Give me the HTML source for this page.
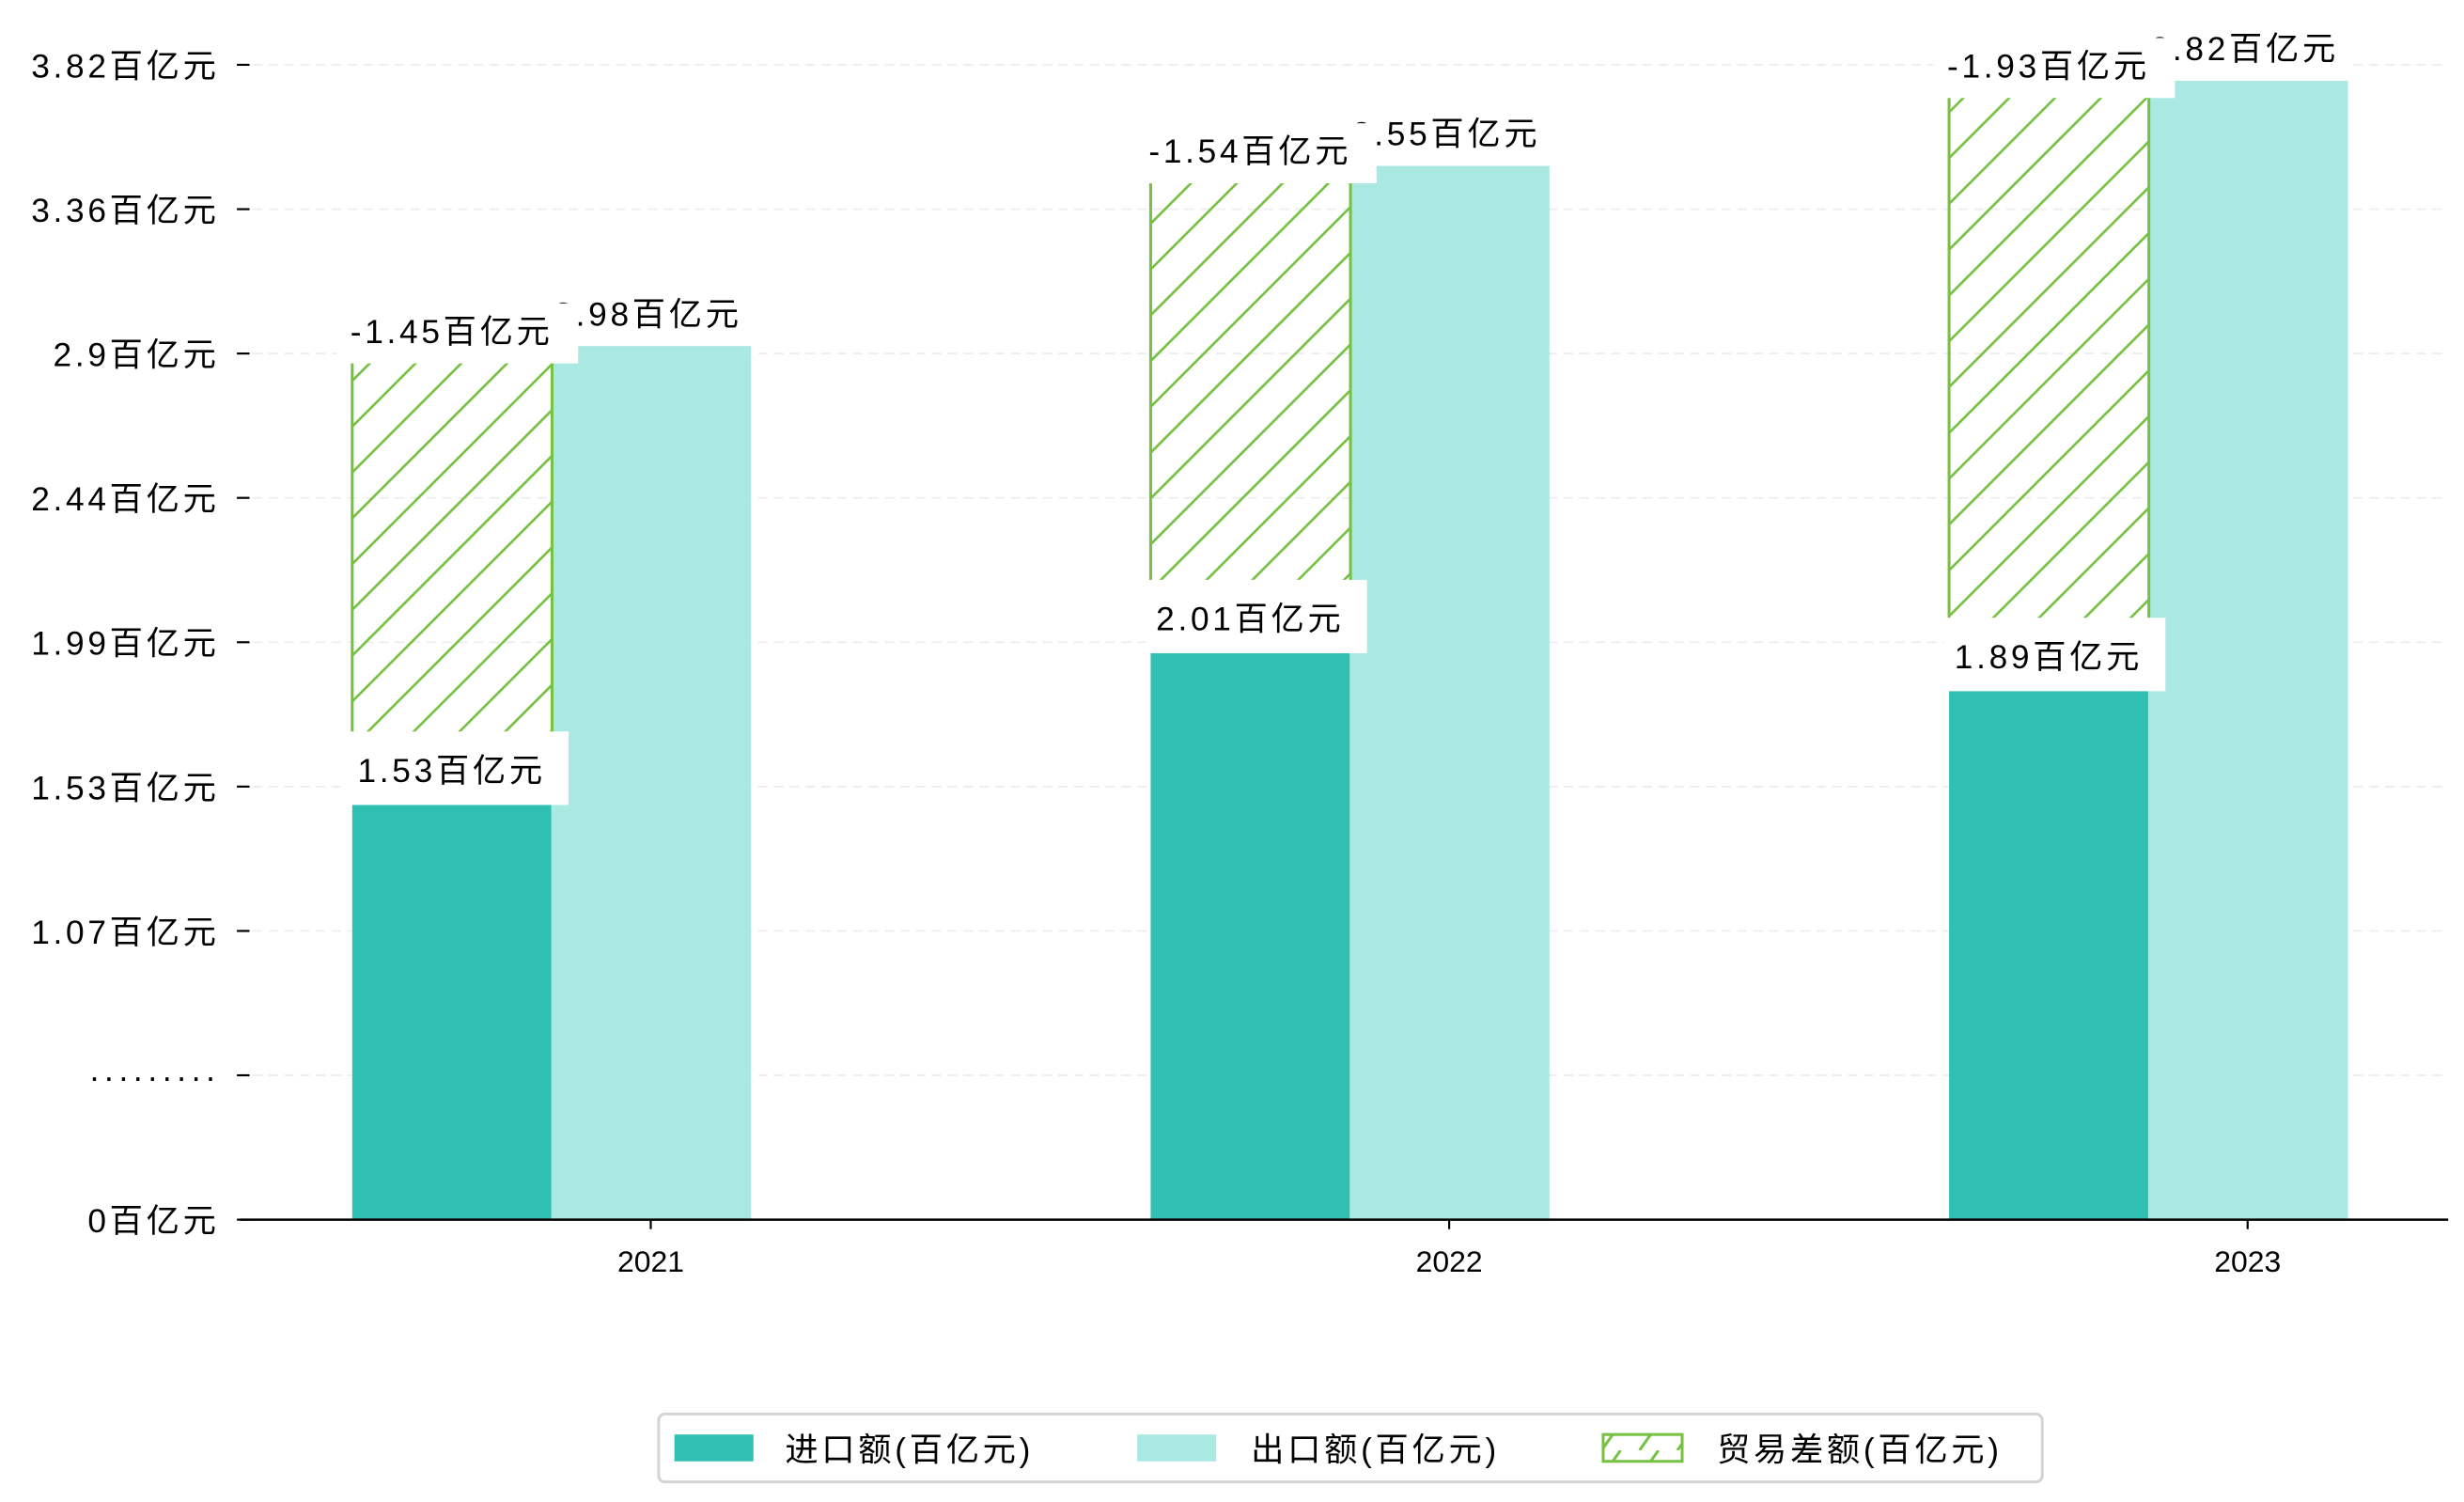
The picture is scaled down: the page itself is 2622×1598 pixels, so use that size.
<!DOCTYPE html>
<html><head><meta charset="utf-8">
<style>
html,body{margin:0;padding:0;background:#fff;}
svg{display:block;}
text{font-family:"Liberation Sans","WenQuanYi Zen Hei","Noto Sans CJK SC",sans-serif;fill:#000;}
.lbl{letter-spacing:2.2px;}
</style></head>
<body>
<svg id="chart" width="2622" height="1598" viewBox="0 0 1560 950.7" xmlns="http://www.w3.org/2000/svg">
<defs>
<pattern id="hatch" patternUnits="userSpaceOnUse" width="29" height="29">
<path d="M0,29 L29,0 M-6,6 L6,-6 M23,35 L35,23" stroke="#76c043" stroke-width="1.6" fill="none"/>
</pattern>
<pattern id="hatch2" patternUnits="userSpaceOnUse" width="24" height="17">
<path d="M6,17 L18,0" stroke="#76c043" stroke-width="1.8" fill="none"/>
</pattern>
</defs>
<g id="grid"></g>
<g id="bars"></g>
<g id="labels"></g>
<g id="axes"></g>
<g id="legend">
<rect x="417" y="895" width="876" height="43" rx="4" fill="#fff" stroke="#d4d4d4" stroke-width="1.8"/>
<rect x="427" y="908" width="50" height="17" fill="#30bfb3"/>
<text class="lbl" x="497" y="925" font-size="21">进口额(百亿元)</text>
<rect x="720" y="908" width="50" height="17" fill="#aae8e2"/>
<text class="lbl" x="792" y="925" font-size="21">出口额(百亿元)</text>
<rect x="1015" y="908" width="50" height="17" fill="url(#hatch2)" stroke="#76c043" stroke-width="1.8"/>
<text class="lbl" x="1087" y="925" font-size="21">贸易差额(百亿元)</text>
</g>
</svg>
<script>
const categories = ["2021", "2022", "2023"];
const importValues = [1.53, 2.01, 1.89];
const exportValues = [2.98, 3.55, 3.82];
const balanceValues = [-1.45, -1.54, -1.93];
const tickLabels = ["0百亿元", "·········", "1.07百亿元", "1.53百亿元", "1.99百亿元", "2.44百亿元", "2.9百亿元", "3.36百亿元", "3.82百亿元"];

const NS = "http://www.w3.org/2000/svg";
const baseY = 772, plotL = 152, plotR = 1550;
function yScale(v){ return Math.min(baseY, 815 - 200 * v); }
function xCenter(i){ return 412 + i * 505.5; }
const barW = 126.5;
function mk(tag, attrs, parent){
  const e = document.createElementNS(NS, tag);
  for (const k in attrs) e.setAttribute(k, attrs[k]);
  parent.appendChild(e); return e;
}
const grid = document.getElementById('grid');
const axes = document.getElementById('axes');
const bars = document.getElementById('bars');
const labels = document.getElementById('labels');

tickLabels.forEach((t, i) => {
  const y = baseY - i * (baseY - 41) / (tickLabels.length - 1);
  if (i > 0) {
    const g = mk('line', {x1: 160, x2: plotR, y1: y, y2: y, stroke: '#ececec', 'stroke-width': 1, 'stroke-dasharray': '6,4'}, grid);
    
    
  }
  const tk = mk('line', {x1: 150, x2: 158, y1: y, y2: y, stroke: '#000', 'stroke-width': 1.3}, axes);
  
  
  const tx = mk('text', {x: 139, y: y + 8, 'text-anchor': 'end', 'font-size': 21, class: 'lbl'}, axes);
  tx.textContent = t;
  
  
});
const ax = mk('line', {x1: plotL, x2: plotR, y1: baseY, y2: baseY, stroke: '#000', 'stroke-width': 1.5}, axes);



categories.forEach((c, i) => {
  const cx = xCenter(i);
  const iL = cx - 189, eL = cx - 63;
  const iTop = yScale(importValues[i]);
  const eTop = yScale(exportValues[i]);
  const bTop = yScale(importValues[i] - balanceValues[i]);
  const r1 = mk('rect', {x: iL, y: iTop, width: barW, height: baseY - iTop, fill: '#30bfb3'}, bars);
  
  
  const r2 = mk('rect', {x: eL, y: eTop, width: barW, height: baseY - eTop, fill: '#aae8e2'}, bars);
  
  
  const hTop = Math.min(bTop, eTop);
  const r3 = mk('rect', {x: iL, y: hTop, width: barW, height: iTop - hTop, fill: 'url(#hatch)'}, bars);
  
  
  const eg = mk('path', {d: `M${iL},${hTop}V${iTop}M${iL+barW},${hTop}V${iTop}`, stroke: '#76c043', 'stroke-width': 1.8, fill: 'none'}, bars);
  
  

  const eb = mk('rect', {x: eL + barW/2 - 65, y: eTop - 36, width: 130, height: 36, fill: '#fff'}, labels);
  
  
  const et = mk('text', {x: eL + barW/2 - 2, y: eTop - 13, 'text-anchor': 'middle', 'font-size': 21, class: 'lbl'}, labels);
  et.textContent = exportValues[i].toFixed(2) + '百亿元';
  
  

  const bb = mk('rect', {x: iL - 10, y: hTop + 11 - 38, width: 153, height: 38, fill: '#fff'}, labels);
  
  
  const bt = mk('text', {x: iL + 63, y: hTop - 2, 'text-anchor': 'middle', 'font-size': 21, class: 'lbl'}, labels);
  bt.textContent = balanceValues[i].toFixed(2) + '百亿元';
  
  

  const ib = mk('rect', {x: iL - 3, y: iTop - 46, width: 140, height: 46.5, fill: '#fff'}, labels);
  
  
  const it = mk('text', {x: iL + 63, y: iTop - 14, 'text-anchor': 'middle', 'font-size': 21, class: 'lbl'}, labels);
  it.textContent = importValues[i].toFixed(2) + '百亿元';
  
  

  const xt = mk('line', {x1: cx, x2: cx, y1: baseY, y2: baseY + 6, stroke: '#000', 'stroke-width': 1.3}, axes);
  
  
  const xl = mk('text', {x: cx, y: baseY + 33, 'text-anchor': 'middle', 'font-size': 19}, axes);
  xl.textContent = c;
  
  
});
</script>
</body></html>
